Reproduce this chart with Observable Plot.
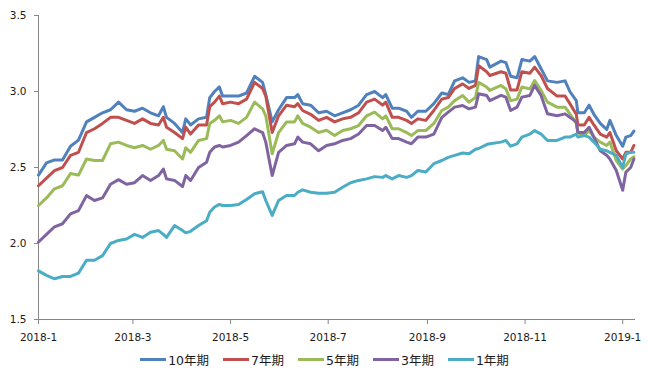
<!DOCTYPE html>
<html>
<head>
<meta charset="utf-8">
<script src="https://cdn.jsdelivr.net/npm/d3@7"></script>
<script src="https://cdn.jsdelivr.net/npm/@observablehq/plot@0.6"></script>
<style>
  body { margin: 0; background: #fff; font-family: "DejaVu Sans", "Noto Sans CJK SC", sans-serif; }
  #wrap { width: 649px; height: 385px; position: relative; }
  #legend { display: flex; justify-content: center; align-items: center; gap: 14px; margin-top: 5px; font-size: 12.5px; color: #1a1a1a; font-family: "DejaVu Sans", "Noto Sans CJK SC", sans-serif; }
  .item { display: flex; align-items: center; }
  .swatch { width: 26px; height: 3px; margin-right: 2px; }
</style>
</head>
<body>
<div id="wrap"><div id="chart"></div><div id="legend"></div></div>
<script>
const dates = ["2018-01-01","2018-01-06","2018-01-11","2018-01-16","2018-01-21","2018-01-26","2018-01-31","2018-02-05","2018-02-10","2018-02-15","2018-02-20","2018-02-25","2018-03-02","2018-03-07","2018-03-12","2018-03-17","2018-03-20","2018-03-22","2018-03-27","2018-04-01","2018-04-03","2018-04-06","2018-04-11","2018-04-16","2018-04-18","2018-04-21","2018-04-24","2018-04-26","2018-05-01","2018-05-06","2018-05-11","2018-05-16","2018-05-21","2018-05-23","2018-05-27","2018-05-31","2018-06-05","2018-06-10","2018-06-12","2018-06-15","2018-06-20","2018-06-25","2018-06-30","2018-07-05","2018-07-10","2018-07-15","2018-07-20","2018-07-25","2018-07-30","2018-08-04","2018-08-06","2018-08-10","2018-08-14","2018-08-19","2018-08-22","2018-08-26","2018-08-31","2018-09-05","2018-09-10","2018-09-14","2018-09-18","2018-09-23","2018-09-27","2018-10-01","2018-10-03","2018-10-08","2018-10-10","2018-10-17","2018-10-20","2018-10-23","2018-10-27","2018-10-30","2018-11-04","2018-11-07","2018-11-11","2018-11-15","2018-11-21","2018-11-26","2018-11-29","2018-12-03","2018-12-04","2018-12-08","2018-12-11","2018-12-14","2018-12-18","2018-12-22","2018-12-24","2018-12-28","2019-01-01","2019-01-03","2019-01-06","2019-01-08"];

const y10 = [2.45,2.53,2.55,2.55,2.64,2.68,2.80, 2.83,2.86,2.88,2.93,2.88, 2.87,2.89,2.86,2.84,2.90,2.83,2.79, 2.73,2.82,2.78,2.82,2.83,2.96,3.00,3.03,2.97, 2.97,2.97,2.99,3.10,3.06,2.98,2.80,2.88, 2.96,2.96,2.98,2.92,2.91,2.86,2.87, 2.84,2.86,2.88,2.91,2.98,3.00, 2.96,2.98,2.89,2.89,2.87,2.83,2.87,2.87, 2.92,2.99,2.98,3.07,3.09,3.06, 3.07,3.23,3.21,3.16,3.20,3.19,3.10,3.09,3.21, 3.20,3.23,3.15,3.07,3.06,3.07,3.00, 2.94,2.86,2.86,2.91,2.85,2.79,2.75,2.81,2.71, 2.64,2.70,2.71,2.74];

const y7 = [2.38,2.43,2.48,2.50,2.58,2.60,2.73, 2.755,2.79,2.83,2.83,2.81, 2.79,2.82,2.79,2.78,2.83,2.765,2.73, 2.69,2.765,2.72,2.78,2.78,2.90,2.93,2.97,2.92, 2.93,2.92,2.95,3.06,3.02,2.97,2.73,2.84, 2.91,2.90,2.92,2.875,2.85,2.81,2.83, 2.80,2.82,2.83,2.86,2.93,2.95, 2.91,2.93,2.83,2.83,2.81,2.79,2.82,2.81, 2.875,2.95,2.96,3.02,3.05,3.02, 3.04,3.17,3.13,3.105,3.13,3.12,3.01,3.01,3.13, 3.12,3.16,3.105,3.02,2.97,2.97,2.92, 2.85,2.78,2.78,2.83,2.78,2.72,2.70,2.73,2.61, 2.556,2.60,2.60,2.645];

const y5 = [2.25,2.30,2.36,2.38,2.46,2.45,2.556, 2.546,2.546,2.656,2.667,2.645, 2.63,2.645,2.62,2.645,2.678,2.62,2.61, 2.556,2.63,2.60,2.678,2.69,2.79,2.81,2.84,2.80, 2.81,2.79,2.83,2.93,2.886,2.84,2.59,2.73, 2.80,2.80,2.84,2.79,2.765,2.73,2.745, 2.71,2.743,2.755,2.776,2.84,2.864, 2.82,2.84,2.755,2.755,2.73,2.71,2.743,2.743, 2.79,2.875,2.897,2.94,2.974,2.93, 2.96,3.06,3.03,3.007,3.04,3.017,2.94,2.95,3.03, 3.017,3.072,3.007,2.93,2.897,2.897,2.853, 2.79,2.73,2.71,2.743,2.70,2.667,2.645,2.667,2.546, 2.49,2.513,2.556,2.57];

const y3 = [2.01,2.06,2.11,2.13,2.195,2.217,2.315, 2.283,2.30,2.39,2.42,2.39, 2.40,2.447,2.415,2.447,2.49,2.425,2.415, 2.375,2.447,2.415,2.50,2.535,2.60,2.635,2.645,2.635, 2.645,2.667,2.71,2.755,2.73,2.667,2.447,2.60, 2.645,2.656,2.70,2.667,2.656,2.61,2.645, 2.656,2.678,2.69,2.72,2.776,2.776, 2.743,2.765,2.69,2.69,2.667,2.656,2.70,2.70, 2.72,2.83,2.864,2.897,2.908,2.886, 2.897,2.985,2.974,2.94,2.974,2.963,2.875,2.897,2.963, 2.974,3.04,2.974,2.853,2.84,2.853,2.83, 2.80,2.73,2.73,2.765,2.70,2.61,2.58,2.556,2.48, 2.35,2.47,2.50,2.556];

const y1 = [1.82,1.79,1.768,1.783,1.783,1.805,1.89, 1.89,1.92,2.00,2.02,2.03, 2.06,2.04,2.074,2.085,2.06,2.04,2.118, 2.085,2.07,2.08,2.118,2.15,2.206,2.24,2.257,2.25, 2.25,2.257,2.29,2.327,2.34,2.283,2.185,2.283, 2.316,2.316,2.337,2.353,2.337,2.33,2.33, 2.337,2.37,2.40,2.415,2.425,2.44, 2.435,2.447,2.425,2.447,2.435,2.447,2.48,2.47, 2.525,2.546,2.567,2.58,2.595,2.59, 2.62,2.625,2.651,2.656,2.667,2.678,2.64,2.656,2.70, 2.72,2.743,2.72,2.678,2.678,2.70,2.70, 2.72,2.70,2.71,2.70,2.667,2.62,2.61,2.60,2.58, 2.50,2.59,2.60,2.60];

const seriesNames = ["10年期","7年期","5年期","3年期","1年期"];
const seriesColors = ["#4F81BD","#C0504D","#9BBB59","#8064A2","#4BACC6"];
const seriesValues = [y10, y7, y5, y3, y1];

const yTicks = [1.5, 2.0, 2.5, 3.0, 3.5];
const xTickDates = ["2018-01-01","2018-03-01","2018-05-01","2018-07-01","2018-09-01","2018-11-01","2019-01-01"];
const xTickLabels = ["2018-1","2018-3","2018-5","2018-7","2018-9","2018-11","2019-1"];
const xDomain = ["2018-01-01","2019-01-09"];

const rows = [];
seriesNames.forEach((name, k) => {
  seriesValues[k].forEach((v, i) => rows.push({ name, date: new Date(dates[i]), value: v }));
});
const xTicks = xTickDates.map(d => new Date(d));
const labelMap = new Map(xTicks.map((d, i) => [+d, xTickLabels[i]]));

const chart = Plot.plot({
  width: 649,
  height: 345,
  marginLeft: 38,
  marginRight: 14,
  marginTop: 15,
  marginBottom: 26,
  style: { fontFamily: "DejaVu Sans, sans-serif", fontSize: "10.5px", color: "#1a1a1a", background: "#fff" },
  x: { type: "utc", domain: xDomain.map(d => new Date(d)), label: null },
  y: { domain: [1.5, 3.5], label: null },
  color: { domain: seriesNames, range: seriesColors },
  marks: [
    Plot.axisY({ ticks: yTicks, label: null, tickSize: 4, tickPadding: 8, tickFormat: d => d.toFixed(1), stroke: "#868686", fill: "#1a1a1a", fontSize: 10.5 }),
    Plot.axisX({ ticks: xTicks, label: null, tickSize: 5, tickPadding: 9, tickFormat: d => labelMap.get(+d), stroke: "#868686", fill: "#1a1a1a", fontSize: 10.5 }),
    Plot.ruleY([1.5], { stroke: "#868686", strokeWidth: 1 }),
    Plot.ruleX([new Date(xDomain[0])], { stroke: "#868686", strokeWidth: 1 }),
    Plot.line(rows, { x: "date", y: "value", z: "name", stroke: "name", strokeWidth: 3, strokeLinejoin: "round" })
  ]
});
document.getElementById("chart").appendChild(chart);

const legend = document.getElementById("legend");
seriesNames.forEach((name, k) => {
  const item = document.createElement("div");
  item.className = "item";
  const sw = document.createElement("span");
  sw.className = "swatch";
  sw.style.background = seriesColors[k];
  const t = document.createElement("span");
  t.textContent = name;
  item.appendChild(sw);
  item.appendChild(t);
  legend.appendChild(item);
});
</script>
</body>
</html>
